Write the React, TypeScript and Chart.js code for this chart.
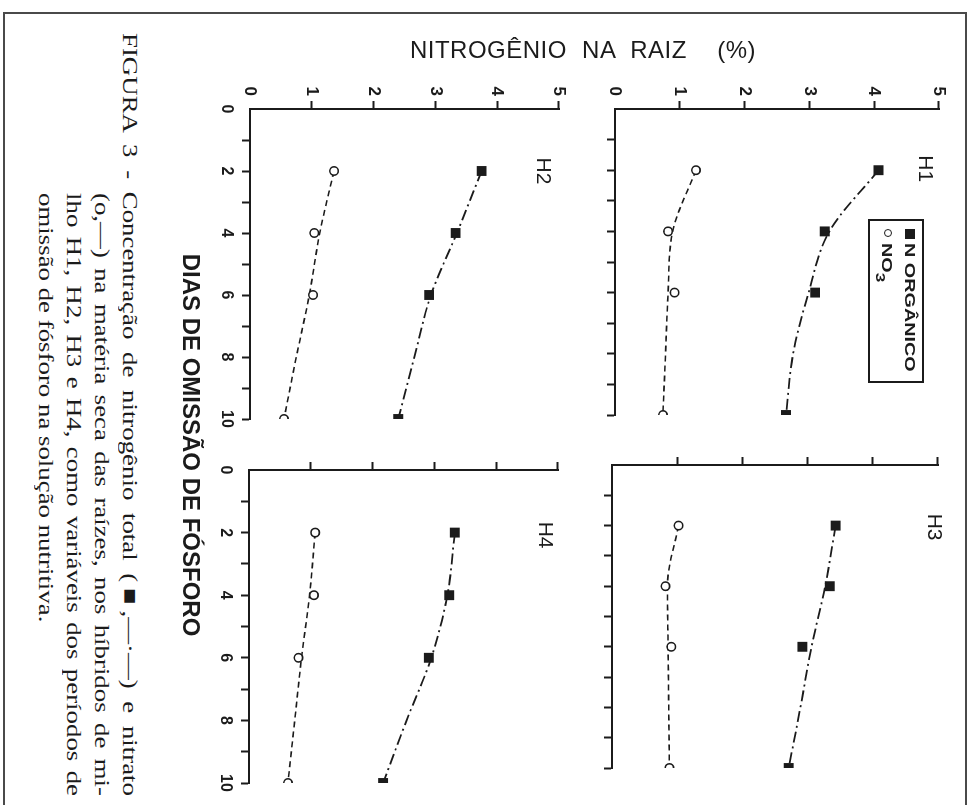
import React, { useEffect, useRef } from 'react';
import { Chart, registerables } from 'chart.js';

Chart.register(...registerables);

// ---------- data ----------
const SAMPLE_DAYS = [2, 4, 6, 10];
const CURVE_DAYS = [2, 4, 6, 8, 10];

const H1_N_ORG = [4.07, 3.24, 3.09, 2.64];
const H1_NO3 = [1.25, 0.82, 0.92, 0.74];
const H1_N_ORG_CURVE = [4.07, 3.31, 2.99, 2.75, 2.64];
const H1_NO3_CURVE = [1.25, 0.89, 0.82, 0.78, 0.74];

const H2_N_ORG = [3.75, 3.33, 2.9, 2.4];
const H2_NO3 = [1.36, 1.04, 1.02, 0.55];
const H2_N_ORG_CURVE = [3.75, 3.35, 2.93, 2.66, 2.4];
const H2_NO3_CURVE = [1.36, 1.13, 0.96, 0.75, 0.55];

const H3_N_ORG = [3.43, 3.34, 2.92, 2.71];
const H3_NO3 = [1.02, 0.82, 0.91, 0.88];
const H3_N_ORG_CURVE = [3.43, 3.27, 3.06, 2.89, 2.71];
const H3_NO3_CURVE = [1.02, 0.85, 0.86, 0.87, 0.88];

const H4_N_ORG = [3.33, 3.24, 2.91, 2.17];
const H4_NO3 = [1.07, 1.05, 0.8, 0.63];
const H4_N_ORG_CURVE = [3.33, 3.21, 2.95, 2.55, 2.17];
const H4_NO3_CURVE = [1.07, 0.98, 0.85, 0.74, 0.63];

const PANEL_NAMES = ['H1', 'H2', 'H3', 'H4'];
const SERIES_LABELS = ['N ORGÂNICO', 'NO3'];

const Y_TITLE = 'NITROGÊNIO NA RAIZ  (%)';
const X_TITLE = 'DIAS DE OMISSÃO DE FÓSFORO';
const CAPTION_LINES = [
  'FIGURA 3 - Concentração de nitrogênio total (■,—·—) e nitrato',
  '(o,—) na matéria seca das raízes, nos híbridos de mi-',
  'lho H1, H2, H3 e H4, como variáveis dos períodos de',
  'omissão de fósforo na solução nutritiva.',
];

// ---------- styling / layout ----------
const INK = '#1b1b1b';
const SANS = "'Liberation Sans', Arial, Helvetica, sans-serif";
const SERIF = "'Liberation Serif', 'Times New Roman', serif";

const AXIS_W = 60;
const AXIS_H = 50;
const PAD_T = 14;
const PAD_R = 24;

type PanelCfg = {
  name: string;
  left: number; right: number; top: number; bottom: number;
  showN: boolean; showDays: boolean;
  nOrg: number[]; no3: number[]; nOrgCurve: number[]; no3Curve: number[];
  labelDay: number; labelN: number;
};

const PANELS: PanelCfg[] = [
  { name: PANEL_NAMES[0], left: 109, right: 415, top: 39, bottom: 364, showN: true, showDays: false,
    nOrg: H1_N_ORG, no3: H1_NO3, nOrgCurve: H1_N_ORG_CURVE, no3Curve: H1_NO3_CURVE, labelDay: 1.95, labelN: 4.78 },
  { name: PANEL_NAMES[1], left: 109, right: 419, top: 419, bottom: 729, showN: true, showDays: true,
    nOrg: H2_N_ORG, no3: H2_NO3, nOrgCurve: H2_N_ORG_CURVE, no3Curve: H2_NO3_CURVE, labelDay: 2.0, labelN: 4.74 },
  { name: PANEL_NAMES[2], left: 465, right: 768, top: 41, bottom: 367, showN: false, showDays: false,
    nOrg: H3_N_ORG, no3: H3_NO3, nOrgCurve: H3_N_ORG_CURVE, no3Curve: H3_NO3_CURVE, labelDay: 2.05, labelN: 4.93 },
  { name: PANEL_NAMES[3], left: 470, right: 783, top: 421, bottom: 730, showN: false, showDays: true,
    nOrg: H4_N_ORG, no3: H4_NO3, nOrgCurve: H4_N_ORG_CURVE, no3Curve: H4_NO3_CURVE, labelDay: 2.08, labelN: 4.79 },
];

const pts = (xs: number[], ys: number[]) => xs.map((x, i) => ({ x, y: ys[i] }));

const gridColor = (ctx: any) => (ctx.tick && ctx.tick.value === 0 ? 'rgba(0,0,0,0)' : INK);

const panelLabelPlugin = {
  id: 'panelLabel',
  afterDatasetsDraw(chart: any, _args: any, opts: any) {
    const { ctx, scales } = chart;
    ctx.save();
    ctx.font = `21px ${SANS}`;
    ctx.fillStyle = INK;
    ctx.textAlign = 'center';
    ctx.textBaseline = 'middle';
    ctx.fillText(opts.text, scales.x.getPixelForValue(opts.day), scales.y.getPixelForValue(opts.value));
    ctx.restore();
  },
};

function Panel({ p }: { p: PanelCfg }) {
  const ref = useRef<HTMLCanvasElement | null>(null);
  const w = p.right - p.left + AXIS_W + PAD_R;
  const h = p.bottom - p.top + PAD_T + AXIS_H;

  useEffect(() => {
    if (!ref.current) return;
    const chart = new Chart(ref.current, {
      type: 'scatter',
      data: {
        datasets: [
          {
            label: SERIES_LABELS[0],
            data: pts(SAMPLE_DAYS, p.nOrg),
            pointStyle: 'rect',
            pointRadius: 7,
            backgroundColor: INK,
            borderColor: INK,
            borderWidth: 0,
            showLine: false,
          },
          {
            label: SERIES_LABELS[1],
            data: pts(SAMPLE_DAYS, p.no3),
            pointStyle: 'circle',
            pointRadius: 4.2,
            backgroundColor: '#ffffff',
            borderColor: INK,
            borderWidth: 1.6,
            showLine: false,
          },
          {
            label: SERIES_LABELS[0] + ' curva',
            data: pts(CURVE_DAYS, p.nOrgCurve),
            showLine: true,
            pointRadius: 0,
            borderColor: INK,
            borderWidth: 1.8,
            borderDash: [11, 4, 2, 4],
            cubicInterpolationMode: 'monotone',
            fill: false,
          },
          {
            label: SERIES_LABELS[1] + ' curva',
            data: pts(CURVE_DAYS, p.no3Curve),
            showLine: true,
            pointRadius: 0,
            borderColor: INK,
            borderWidth: 1.6,
            borderDash: [6, 4],
            cubicInterpolationMode: 'monotone',
            fill: false,
          },
        ],
      } as any,
      options: {
        responsive: false,
        animation: false,
        events: [],
        layout: { padding: { top: PAD_T, right: PAD_R, left: 0, bottom: 0 } },
        plugins: {
          legend: { display: false },
          tooltip: { enabled: false },
          panelLabel: { text: p.name, day: p.labelDay, value: p.labelN },
        } as any,
        scales: {
          x: {
            type: 'linear',
            position: 'bottom',
            min: 0,
            max: 10,
            ticks: {
              stepSize: 1,
              autoSkip: false,
              maxRotation: 0,
              display: p.showDays,
              callback: (v: any) => (Number(v) % 2 === 0 ? String(v) : ''),
              font: { family: SANS, size: 16, weight: 'bold' },
              color: INK,
              padding: 6,
            },
            grid: { drawOnChartArea: false, drawTicks: true, tickLength: 8, tickWidth: 2, color: gridColor },
            border: { display: true, color: INK, width: 2 },
            afterFit: (s: any) => { s.height = AXIS_H; },
          },
          y: {
            type: 'linear',
            position: 'left',
            min: 0,
            max: 5,
            ticks: {
              stepSize: 1,
              display: p.showN,
              font: { family: SANS, size: 17, weight: 'bold' },
              color: INK,
              padding: 5,
            },
            grid: { drawOnChartArea: false, drawTicks: true, tickLength: 8, tickWidth: 2, color: gridColor },
            border: { display: true, color: INK, width: 2 },
            afterFit: (s: any) => { s.width = AXIS_W; },
          },
        } as any,
      },
      plugins: [panelLabelPlugin as any],
    });
    return () => chart.destroy();
  }, []);

  return (
    <canvas
      ref={ref}
      width={w}
      height={h}
      style={{ position: 'absolute', left: p.left - AXIS_W, top: p.top - PAD_T, width: w, height: h }}
    />
  );
}

const CAP_SCALE = 1.22;

function CaptionLine({ text, left, right, top, justify }: { text: string; left: number; right: number; top: number; justify: boolean }) {
  const width = (right - left) / CAP_SCALE;
  return (
    <div
      style={{
        position: 'absolute',
        left,
        top,
        width,
        font: `22px ${SERIF}`,
        lineHeight: '27px',
        color: INK,
        whiteSpace: 'nowrap',
        textAlign: justify ? 'justify' : 'left',
        textAlignLast: justify ? 'justify' : 'left',
        transform: `scaleX(${CAP_SCALE})`,
        transformOrigin: '0 0',
      } as any}
    >
      {text}
    </div>
  );
}

export default function App() {
  return (
    <div style={{ position: 'fixed', left: 0, top: 0, width: 979, height: 805, overflow: 'hidden', background: '#ffffff' }}>
      <div
        style={{
          position: 'absolute',
          left: 0,
          top: 0,
          width: 805,
          height: 979,
          transformOrigin: '0 0',
          transform: 'translateX(979px) rotate(90deg)',
          background: '#ffffff',
        }}
      >
        {/* frame */}
        <div style={{ position: 'absolute', left: 12, top: 12, width: 900, height: 964, border: '2px solid #4a4a4a', boxSizing: 'border-box' }} />

        {PANELS.map((p) => (
          <Panel key={p.name} p={p} />
        ))}

        {/* legend inside H1 */}
        <div style={{ position: 'absolute', left: 219, top: 55, width: 164, height: 56, border: `2px solid ${INK}`, boxSizing: 'border-box', background: '#fff' }}>
          <div style={{ position: 'absolute', left: 8, top: 7, width: 10, height: 10, background: INK }} />
          <div style={{ position: 'absolute', left: 22, top: 2, font: `bold 15px ${SANS}`, lineHeight: '20px', color: INK, whiteSpace: 'nowrap', transform: 'scaleX(1.32)', transformOrigin: '0 50%' }}>
            {SERIES_LABELS[0]}
          </div>
          <div style={{ position: 'absolute', left: 8, top: 30, width: 8, height: 8, borderRadius: '50%', border: `1.6px solid ${INK}`, boxSizing: 'border-box' }} />
          <div style={{ position: 'absolute', left: 22, top: 25, font: `bold 15px ${SANS}`, lineHeight: '20px', color: INK, whiteSpace: 'nowrap', transform: 'scaleX(1.32)', transformOrigin: '0 50%' }}>
            NO<span style={{ position: 'relative', top: 6, fontSize: 13 }}>3</span>
          </div>
        </div>

        {/* y title */}
        <div
          style={{
            position: 'absolute',
            left: 50,
            top: 396,
            font: `24px ${SANS}`,
            letterSpacing: '0.5px',
            wordSpacing: '8px',
            color: INK,
            whiteSpace: 'pre',
            transform: 'translate(-50%, -50%) rotate(-90deg)',
          }}
        >
          {Y_TITLE}
        </div>

        {/* x title */}
        <div
          style={{
            position: 'absolute',
            left: 445,
            top: 788,
            font: `bold 24px ${SANS}`,
            color: INK,
            whiteSpace: 'pre',
            transform: 'translate(-50%, -50%)',
          }}
        >
          {X_TITLE}
        </div>

        {/* caption */}
        <CaptionLine text={CAPTION_LINES[0]} left={33} right={796} top={835} justify />
        <CaptionLine text={CAPTION_LINES[1]} left={193} right={796} top={863} justify />
        <CaptionLine text={CAPTION_LINES[2]} left={193} right={796} top={891} justify />
        <CaptionLine text={CAPTION_LINES[3]} left={193} right={796} top={919} justify={false} />
      </div>
    </div>
  );
}
